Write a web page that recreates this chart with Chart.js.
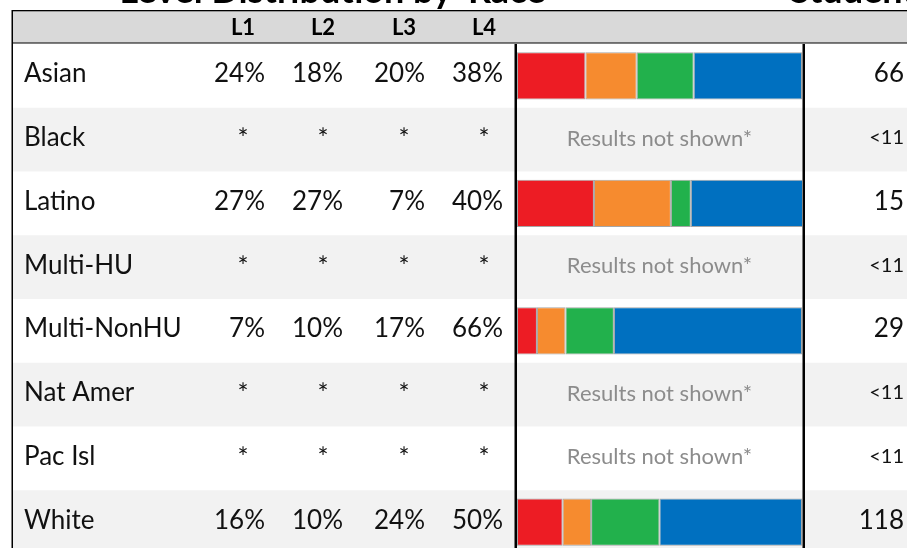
<!DOCTYPE html>
<html><head><meta charset="utf-8">
<script src="https://cdn.jsdelivr.net/npm/chart.js@4"></script>
<style>html,body{margin:0;padding:0;background:#fff;overflow:hidden;}#wrap{width:907px;height:554px;position:relative;}</style>
</head><body><div id="wrap"><canvas id="c"></canvas></div>
<script>
const categories = ["Asian","Black","Latino","Multi-HU","Multi-NonHU","Nat Amer","Pac Isl","White"];
const levelLabels = ["L1","L2","L3","L4"];
const L1 = [24,null,27,null,7,null,null,16];
const L2 = [18,null,27,null,10,null,null,10];
const L3 = [20,null,7,null,17,null,null,24];
const L4 = [38,null,40,null,66,null,null,50];
const counts = ["66","<11","15","<11","29","<11","<11","118"];
const colors = ["#ED1C24","#F68B2F","#22B14C","#0070C0"];
const series = [L1,L2,L3,L4];
const FONT = "Lato";

const tablePlugin = {
  id:'table',
  beforeDraw(chart){
    const {ctx, scales:{y}} = chart;
    const W = chart.width, H = chart.height;
    const step = y.getPixelForValue(1)-y.getPixelForValue(0);
    ctx.save();
    ctx.fillStyle='#fff'; ctx.fillRect(0,0,W,H);
    categories.forEach((c,i)=>{
      const cy=y.getPixelForValue(i);
      ctx.fillStyle = i%2 ? '#f2f2f2' : '#ffffff';
      ctx.fillRect(12, cy-step/2, W-12, step+0.5);
    });
    // header band
    ctx.fillStyle='#d9d9d9'; ctx.fillRect(12,10,W-12,33);
    ctx.fillStyle='#000';
    ctx.fillRect(12,10,W-12,1.3);
    ctx.fillRect(12,42.5,W-12,1);
    ctx.fillRect(11.5,10,1.5,H-10);
    // title (cut off at top)
    ctx.font = "bold 36px "+FONT;
    ctx.textBaseline='alphabetic';
    ctx.textAlign='right';
    ctx.fillText("Level Distribution by", 452, 3);
    ctx.textAlign='left';
    ctx.fillText("Race", 468, 3);
    ctx.fillText("Students", 790, 3);
    // header labels
    ctx.font = "bold 22px "+FONT;
    ctx.textAlign='center'; ctx.textBaseline='middle';
    const colC = [243,323,404,484];
    levelLabels.forEach((l,k)=>ctx.fillText(l, colC[k], 28));
    ctx.restore();
  },
  afterDraw(chart){
    const {ctx, scales:{y}, chartArea} = chart;
    const W = chart.width, H = chart.height;
    const colR = [265,343,425,503];
    const colC = [243,323,404,484];
    ctx.save();
    ctx.textBaseline='middle';
    categories.forEach((c,i)=>{
      const cy=y.getPixelForValue(i)-2;
      ctx.fillStyle='#111';
      ctx.font = "26px "+FONT;
      ctx.textAlign='left';
      ctx.fillText(c, 24, cy);
      series.forEach((s,k)=>{
        if(s[i]===null){
          ctx.textAlign='center';
          ctx.font = "26px "+FONT;
          ctx.fillText("*", colC[k], cy+2);
        } else {
          ctx.textAlign='right';
          ctx.font = "26px "+FONT;
          ctx.fillText(s[i]+"%", colR[k], cy);
        }
      });
      if(series.every(s=>s[i]===null)){
        ctx.fillStyle='#8c8c8c';
        ctx.font = "22px "+FONT;
        ctx.textAlign='center';
        ctx.fillText("Results not shown*", (chartArea.left+chartArea.right)/2, cy+1);
      }
      ctx.fillStyle='#111';
      ctx.textAlign='right';
      const small = counts[i].startsWith("<");
      ctx.font = (small? "20px ":"26px ")+FONT;
      ctx.fillText(counts[i], 904, cy);
    });
    // vertical black lines
    ctx.fillStyle='#000';
    ctx.fillRect(chartArea.left-2.5, 44, 2.5, H-44);
    ctx.fillRect(chartArea.right+0.5, 44, 2.5, H-44);
    ctx.restore();
  }
};

function build(){
  new Chart(document.getElementById('c'), {
    type:'bar',
    data:{
      labels: categories,
      datasets: series.map((s,k)=>({
        label: levelLabels[k], data: s, backgroundColor: colors[k],
        borderColor:'#a6a6a6', borderWidth:1, borderSkipped:false,
        barPercentage:0.74, categoryPercentage:1
      }))
    },
    options:{
      indexAxis:'y', responsive:true, maintainAspectRatio:false, animation:false,
      layout:{padding:{left:517, right:105, top:44, bottom:0}},
      plugins:{legend:{display:false}, tooltip:{enabled:false}, title:{display:false}},
      scales:{
        x:{stacked:true, min:0, max:100, display:false},
        y:{stacked:true, display:false}
      }
    },
    plugins:[tablePlugin]
  });
}
Promise.all([
  document.fonts.load("26px Lato"), document.fonts.load("bold 22px Lato"), document.fonts.load("bold 36px Lato")
]).then(build, build);
</script>
</body></html>
